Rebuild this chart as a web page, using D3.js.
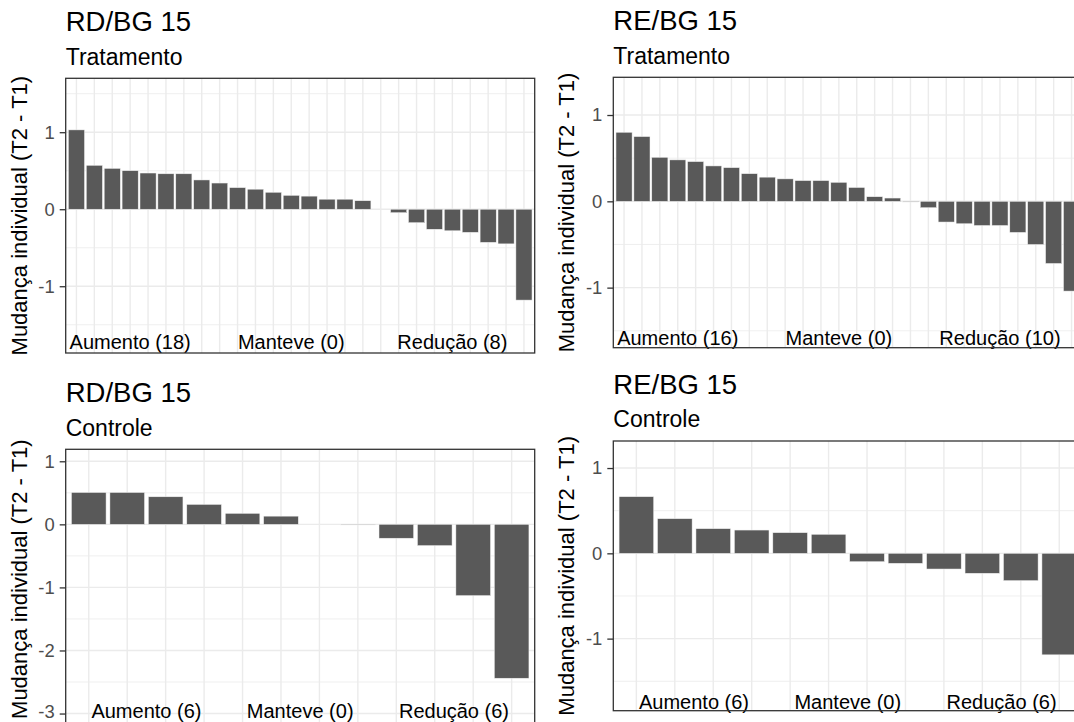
<!DOCTYPE html>
<html>
<head>
<meta charset="utf-8">
<script src="https://cdn.jsdelivr.net/npm/d3@7"></script>
<style>
  html, body { margin: 0; padding: 0; background: #ffffff; }
  svg { display: block; }
  text { font-family: "Liberation Sans", Arial, sans-serif; }
</style>
</head>
<body>
<svg id="chart" width="1074" height="722"></svg>
<script>
// ---------------- DATA ----------------
const titles    = ["RD/BG 15", "RE/BG 15", "RD/BG 15", "RE/BG 15"];
const subtitles = ["Tratamento", "Tratamento", "Controle", "Controle"];

// individual change (T2 - T1), ordered as in the picture
const rdTratamento = [1.03, 0.57, 0.53, 0.50, 0.47, 0.46, 0.46, 0.38, 0.34, 0.28, 0.26, 0.22, 0.18,
                      0.17, 0.13, 0.13, 0.11, 0, -0.045, -0.175, -0.26, -0.28, -0.30, -0.43, -0.45, -1.18];
const reTratamento = [0.80, 0.75, 0.51, 0.48, 0.46, 0.41, 0.39, 0.32, 0.28, 0.26, 0.24, 0.24, 0.22,
                      0.16, 0.053, 0.038, -0.008, -0.074, -0.24, -0.26, -0.28, -0.28, -0.36, -0.50, -0.72, -1.04];
const rdControle   = [0.505, 0.505, 0.437, 0.316, 0.174, 0.13, 0, -0.01, -0.22, -0.337, -1.13, -2.44];
const reControle   = [0.664, 0.406, 0.289, 0.273, 0.242, 0.223, -0.098, -0.117, -0.184, -0.234, -0.32, -1.19];

// group annotations
const labelsRdTrat = ["Aumento (18)", "Manteve (0)", "Redução (8)"];
const labelsReTrat = ["Aumento (16)", "Manteve (0)", "Redução (10)"];
const labelsRdCtrl = ["Aumento (6)", "Manteve (0)", "Redução (6)"];
const labelsReCtrl = ["Aumento (6)", "Manteve (0)", "Redução (6)"];
// annotation x (category units, 1-based) and y (data units)
const labelXTrat = [4, 13, 22];
const labelXCtrl = [2.5, 6.5, 10.5];
const labelY = [-1.73, -1.58, -2.965, -1.74];

// y axis ticks
const yTicksA = [-1, 0, 1];
const yTicksB = [-3, -2, -1, 0, 1];
// y scale limits
const yLimits = [[-1.867, 1.70], [-1.696, 1.437], [-3.15, 1.19], [-1.845, 1.317]];

const yTitle = "Mudança individual (T2 - T1)";

// ---------------- LAYOUT ----------------
const layout = [
  { left: 65.7,  top: 78.3,  bottom: 353.0, titleShift: 0 },
  { left: 613.3, top: 77.3,  bottom: 347.7, titleShift: 0 },
  { left: 65.7,  top: 449.3, bottom: 723.0, titleShift: -7 },
  { left: 613.3, top: 441.0, bottom: 710.7, titleShift: 0 }
];
const panelWidth = 469;
const pageHeight = 722;

const panels = [
  { values: rdTratamento, labels: labelsRdTrat, labelX: labelXTrat, ticks: yTicksA },
  { values: reTratamento, labels: labelsReTrat, labelX: labelXTrat, ticks: yTicksA },
  { values: rdControle,   labels: labelsRdCtrl, labelX: labelXCtrl, ticks: yTicksB },
  { values: reControle,   labels: labelsReCtrl, labelX: labelXCtrl, ticks: yTicksA }
];

const svg = d3.select("#chart");
svg.append("rect").attr("width", 1074).attr("height", pageHeight).attr("fill", "#ffffff");

const gridCol = "#ebebeb";
const barCol = "#595959";
const borderCol = "#333333";

panels.forEach((p, k) => {
  const L = layout[k];
  const ids = p.values.map((v, i) => i + 1);
  const x = d3.scalePoint().domain(ids).range([L.left, L.left + panelWidth]).padding(0.6);
  const step = x.step();
  const y = d3.scaleLinear().domain(yLimits[k]).range([L.bottom, L.top]);
  const [y0, y1] = yLimits[k];

  const g = svg.append("g");

  // minor gridlines (half units)
  const minor = [];
  for (let t = Math.ceil(y0 - 0.5) + 0.5; t <= y1; t += 1) if (t >= y0) minor.push(t);
  g.selectAll(".minor").data(minor).join("line")
    .attr("x1", L.left).attr("x2", L.left + panelWidth)
    .attr("y1", d => y(d)).attr("y2", d => y(d))
    .attr("stroke", gridCol).attr("stroke-width", 0.8);

  // major gridlines
  g.selectAll(".majorY").data(p.ticks).join("line")
    .attr("x1", L.left).attr("x2", L.left + panelWidth)
    .attr("y1", d => y(d)).attr("y2", d => y(d))
    .attr("stroke", gridCol).attr("stroke-width", 1.4);
  g.selectAll(".majorX").data(ids).join("line")
    .attr("x1", d => x(d)).attr("x2", d => x(d))
    .attr("y1", L.top).attr("y2", L.bottom)
    .attr("stroke", gridCol).attr("stroke-width", 1.4);

  // bars
  const bw = step * 0.9;
  g.selectAll(".bar").data(p.values.map((v, i) => ({ id: i + 1, v })).filter(d => d.v !== 0)).join("rect")
    .attr("x", d => x(d.id) - bw / 2)
    .attr("width", bw)
    .attr("y", d => Math.min(y(d.v), y(0)))
    .attr("height", d => Math.abs(y(d.v) - y(0)))
    .attr("fill", barCol)
    .attr("stroke", "#f0f0f0")
    .attr("stroke-width", 0.5);

  // group annotations
  const xAt = c => x(1) + (c - 1) * step;
  g.selectAll(".ann").data(p.labels).join("text")
    .attr("x", (d, i) => xAt(p.labelX[i]))
    .attr("y", y(labelY[k]))
    .attr("dy", "0.35em")
    .attr("text-anchor", "middle")
    .attr("font-size", 20)
    .attr("fill", "#000000")
    .text(d => d);

  // panel border
  g.append("rect")
    .attr("x", L.left).attr("y", L.top)
    .attr("width", panelWidth).attr("height", L.bottom - L.top)
    .attr("fill", "none").attr("stroke", borderCol).attr("stroke-width", 1.3);

  // y axis ticks & labels
  const ax = g.append("g").attr("transform", `translate(${L.left},0)`)
    .call(d3.axisLeft(y).tickValues(p.ticks).tickSize(6).tickPadding(5).tickFormat(d3.format("d")));
  ax.select(".domain").remove();
  ax.selectAll(".tick line").attr("stroke", borderCol).attr("stroke-width", 1.3);
  ax.selectAll(".tick text")
    .attr("fill", "#4d4d4d")
    .attr("font-size", 18.4)
    .attr("font-family", "'Liberation Sans', Arial, sans-serif")
    .attr("dy", d => (y(d) + 10 > pageHeight) ? "0.2em" : "0.32em")
    .text(d => d < 0 ? "-" + Math.abs(d) : String(d));

  // axis title
  const cy = (L.top + L.bottom) / 2 + L.titleShift;
  g.append("text")
    .attr("transform", `translate(${L.left - 39.2},${cy}) rotate(-90)`)
    .attr("text-anchor", "middle")
    .attr("font-size", 22)
    .attr("fill", "#000000")
    .text(yTitle);

  // titles
  g.append("text")
    .attr("x", L.left).attr("y", L.top - 47.5)
    .attr("font-size", 27.5).attr("fill", "#000000")
    .text(titles[k]);
  g.append("text")
    .attr("x", L.left).attr("y", L.top - 13.8)
    .attr("font-size", 23).attr("fill", "#000000")
    .text(subtitles[k]);
});
</script>
</body>
</html>
